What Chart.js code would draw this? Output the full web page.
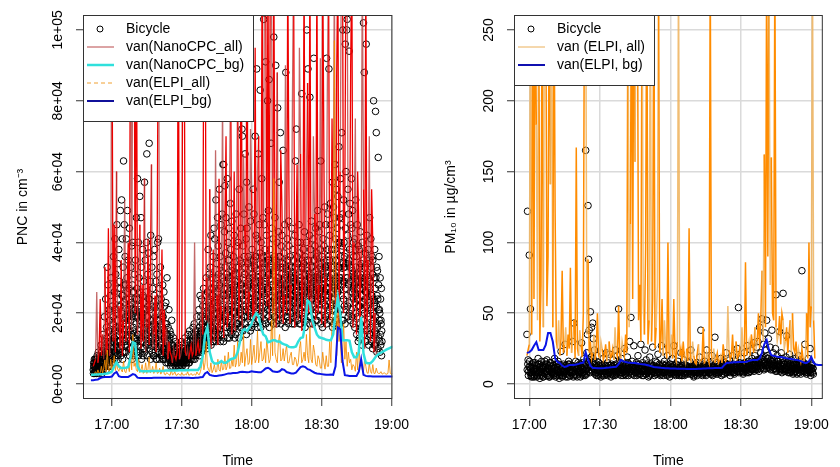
<!DOCTYPE html>
<html>
<head>
<meta charset="utf-8">
<script src="https://cdn.jsdelivr.net/npm/chart.js@4.4.1/dist/chart.umd.min.js"></script>
<style>
  body { margin: 0; background: #fff; }
  .panel { position: absolute; top: 0; width: 420px; height: 467px; }
</style>
</head>
<body>
<div class="panel" style="left:0"><canvas id="pncChart"></canvas></div>
<div class="panel" style="left:420px"><canvas id="pmChart"></canvas></div>
<script>
// x values are minutes after 17:00
const xTickMinutes = [0, 30, 60, 90, 120];
const xTickLabels = ['17:00', '17:30', '18:00', '18:30', '19:00'];
const pncTicks = [0, 20000, 40000, 60000, 80000, 100000];
const pncTickLabels = ['0e+00', '2e+04', '4e+04', '6e+04', '8e+04', '1e+05'];
const pmTicks = [0, 50, 100, 150, 200, 250];
const pmTickLabels = ['0', '50', '100', '150', '200', '250'];

// ---- left panel: PNC (values in 1000 / cm3) ----
// bicycle, readings every 10 s grouped by minute, first row = 16:52
const pncBikeStart = -8;
const pncBikeK = [
  [4,6,5,7,3,5],[5,4,7,6,8,4],[6,9,5,4,7,6],[5,7,11,6,4,8],[8,14,6,10,5,19],[12,7,24,9,16,6],
  [33,10,28,15,7,21],[18,8,25,12,30,9],[11,22,6,17,36,13],[26,9,41,15,31,8],[20,45,12,34,7,27],
  [38,14,29,10,49,22],[16,52,25,41,9,33],[63,28,45,18,36,11],[24,41,13,30,49,19],[35,15,27,44,10,22],
  [18,33,21,39,12,28],[40,16,26,11,31,21],[13,35,19,47,24,9],[58,22,40,14,30,18],[53,26,12,47,33,20],
  [19,38,25,10,29,16],[57,21,35,14,26,40],[65,17,31,22,12,37],[68,24,15,29,42,11],[20,33,13,27,18,36],
  [14,25,38,17,9,29],[22,12,31,16,40,24],[41,18,9,27,14,33],[15,24,11,20,8,28],[19,10,26,13,22,7],
  [12,23,9,17,30,14],[8,16,11,21,7,13],[10,6,14,9,18,7],[7,11,8,13,6,9],[9,6,12,7,10,8],
  [6,10,8,5,11,7],[8,7,10,6,9,12],[7,11,6,9,8,10],[10,8,13,7,9,6],[8,12,7,10,14,9],
  [11,9,15,8,12,10],[9,14,10,13,8,16],[12,10,17,9,14,11],[10,15,11,19,9,13],[14,12,21,10,16,25],
  [12,19,15,24,11,17],[22,14,27,12,18,15],[16,25,11,30,20,13],[26,14,38,19,23,31],[18,33,21,42,15,27],
  [30,16,25,36,12,44],[20,41,28,15,52,24],[34,18,47,23,39,14],[27,55,19,36,22,45],[17,32,48,21,62,29],
  [62,25,43,56,18,37],[47,31,20,58,27,40],[22,44,35,16,30,51],[38,19,28,46,24,33],[15,36,26,42,20,29],
  [31,22,48,17,39,26],[24,40,18,33,55,21],[35,20,44,28,16,72],[70,27,39,22,48,31],[19,65,33,25,41,57],
  [44,28,80,36,21,50],[30,86,24,46,35,19],[26,38,89,30,55,22],[48,33,24,70,29,42],[36,89,27,41,23,65],
  [31,45,20,37,83,28],[40,26,58,33,22,47],[34,103,29,45,25,38],[91,30,42,24,36,80],[27,49,35,86,31,21],
  [38,23,68,29,44,33],[26,41,32,98,24,36],[47,29,90,35,22,40],[33,78,25,43,30,57],[28,36,71,24,39,31],
  [42,27,34,66,22,37],[30,45,25,33,88,28],[24,35,41,27,32,46],[39,28,22,36,30,25],[27,44,33,20,38,29],
  [35,24,30,42,26,63],[31,72,28,36,23,40],[26,34,45,29,37,21],[40,25,33,82,28,35],[22,38,27,31,43,26],
  [36,29,24,40,100,33],[28,89,35,25,31,42],[81,30,38,24,46,27],[33,26,41,29,92,35],[25,39,30,44,28,36],
  [37,24,49,31,27,43],[30,45,26,38,63,34],[24,36,32,27,41,29],[39,28,50,33,25,45],[27,92,35,30,48,38],
  [33,89,29,42,26,51],[45,31,38,24,57,35],[29,50,33,47,28,62],[41,35,55,30,44,26],[53,28,40,67,33,47],
  [36,58,30,45,71,39],[48,100,34,52,40,29],[33,96,44,60,37,100],[103,42,55,34,48,94],[38,51,29,45,33,58],
  [44,32,49,27,40,36],[30,41,26,38,52,29],[36,27,45,31,24,39],[28,38,33,22,43,30],[34,25,29,40,27,35],
  [102,29,88,33,24,37],[26,96,31,42,28,34],[38,30,23,35,47,27],[29,41,33,25,36,31],[35,24,80,30,22,38],
  [27,77,30,71,33,25],[32,24,64,28,36,21],[20,30,24,18,27,15]
];
// bicycle, the readings 5 s later in each 10 s slot, same minutes
const pncBikeHalfK = [
  [3,5,4,6,3,7],[4,6,3,5,7,4],[5,3,6,4,8,5],[4,6,5,9,3,6],[6,4,8,5,11,7],[5,9,7,4,13,8],
  [7,12,5,9,6,15],[9,5,13,7,10,6],[8,14,6,19,10,12],[13,7,21,9,16,11],[10,18,8,24,12,15],
  [16,9,22,12,27,8],[11,20,14,7,25,17],[14,9,23,12,19,28],[9,17,11,26,14,21],[18,12,24,8,20,15],
  [10,23,14,19,7,26],[15,8,20,13,24,11],[21,12,17,9,27,14],[11,19,8,24,15,21],[17,9,22,13,7,19],
  [12,20,8,15,23,10],[9,17,13,21,11,16],[14,8,19,11,24,13],[10,21,15,7,18,12],[16,9,13,22,8,17],
  [8,15,11,19,13,7],[13,7,18,10,15,20],[9,14,7,17,11,22],[12,8,16,10,19,7],[7,13,10,15,9,17],
  [10,6,14,8,12,9],[6,10,8,12,7,15],[8,5,9,6,11,7],[5,8,6,9,7,10],[7,5,8,6,9,6],
  [6,8,5,7,6,9],[5,7,6,8,5,7],[6,5,8,6,7,9],[7,9,6,8,5,7],[6,8,9,7,10,6],
  [8,6,10,7,9,11],[7,10,8,12,9,7],[9,8,11,7,13,10],[8,12,9,10,15,11],[10,9,13,11,8,14],
  [11,15,9,13,17,10],[13,10,16,12,19,14],[12,18,14,22,10,16],[15,11,20,13,17,24],[13,22,16,11,25,19],
  [18,12,21,15,27,14],[14,23,17,30,12,20],[22,13,26,16,31,19],[15,28,20,12,24,33],[21,14,30,18,25,12],
  [13,27,19,33,16,24],[25,16,30,13,21,35],[18,26,13,29,21,15],[27,14,22,32,17,25],[20,31,16,24,13,28],
  [14,25,19,33,22,17],[29,17,23,13,27,20],[16,28,21,34,18,25],[24,15,30,19,36,21],[17,31,22,27,14,26],
  [25,19,34,16,29,22],[20,28,15,33,23,17],[16,24,31,19,27,35],[28,17,22,36,20,25],[21,32,16,26,30,18],
  [25,18,29,22,34,16],[19,27,23,31,17,36],[26,20,33,18,28,22],[17,29,24,35,21,27],[31,19,26,16,33,23],
  [22,34,18,28,25,20],[28,17,31,23,19,35],[19,26,22,33,17,29],[24,30,18,27,36,21],[20,25,33,17,28,23],
  [33,18,24,29,20,26],[21,28,16,31,24,19],[26,19,30,22,35,17],[18,31,24,20,27,33],[30,22,17,28,25,19],
  [23,17,29,21,33,26],[19,27,22,34,18,25],[28,20,31,17,24,30],[17,29,23,26,20,33],[25,19,34,22,29,16],
  [20,31,18,27,23,35],[32,22,26,19,30,17],[19,27,21,33,24,28],[24,17,30,22,35,20],[29,21,18,32,26,23],
  [18,30,25,21,34,27],[26,19,33,24,17,31],[21,28,16,30,23,35],[30,18,26,22,33,19],[17,27,32,20,25,36],
  [25,21,35,18,30,23],[22,33,19,28,16,26],[31,17,27,24,38,21],[18,29,22,35,20,27],[26,20,33,17,30,40],
  [21,31,25,38,18,28],[29,18,24,33,22,36],[17,27,34,21,30,25],[30,22,19,28,35,20],[23,33,18,26,21,30],
  [19,26,31,17,24,28],[28,16,23,33,20,25],[14,24,19,29,12,22],[22,13,27,17,31,15],[16,25,11,21,28,18],
  [23,14,20,30,12,26],[12,22,17,26,15,20],[19,11,24,14,29,16],[14,21,12,25,17,10],[20,13,18,11,23,15],
  [11,19,14,22,9,17],[16,10,21,13,18,12],[9,14,11,17,8,12]
];

// van NanoCPC all, 2 readings per minute, first row = 16:52 (120 = off scale)
const nanoAllStart = -8;
const nanoAllK = [
  [5,6],[7,26],[6,9],[24,8],[14,7],[33,9],[10,44],[8,26],[120,12],[45,9],
  [60,14],[22,10],[35,8],[18,52],[12,27],[40,9],[120,15],[120,120],[20,120],[14,33],
  [45,10],[28,12],[58,9],[16,41],[11,30],[62,10],[14,25],[9,47],[120,10],[18,38],
  [8,21],[11,16],[7,12],[9,8],[6,10],[8,7],[9,120],[7,8],[10,120],[120,9],
  [8,10],[7,9],[11,8],[9,40],[8,10],[12,9],[10,26],[14,120],[120,18],[30,12],
  [55,10],[20,38],[12,66],[25,11],[58,15],[22,82],[13,45],[70,16],[20,55],[90,14],
  [28,60],[15,48],[85,18],[33,120],[16,65],[45,20],[120,18],[26,72],[55,17],[20,95],
  [18,60],[70,20],[30,120],[18,120],[120,22],[120,18],[120,120],[20,120],[45,16],[88,22],
  [18,66],[50,17],[25,90],[20,120],[55,17],[28,80],[120,16],[38,62],[18,95],[65,15],
  [30,120],[17,58],[85,20],[120,22],[16,70],[48,18],[120,20],[28,92],[17,120],[65,16],
  [30,85],[120,18],[26,75],[40,120],[18,88],[120,16],[60,120],[120,20],[55,120],[120,18],
  [30,90],[120,16],[40,75],[14,60],[45,12],[38,120],[55,10],[120,14],[35,70],[12,55],
  [40,9],[20,8]
];

// van NanoCPC background, one value per minute, first = 16:51
const nanoBgStart = -9;
const nanoBgK = [
  2.6,2.6,2.7,2.7,2.8,2.8,2.9,3.0,3.2,
  3.5,5.0,6.2,5.0,4.5,4.5,4.6,4.8,7.5,11.8,11.5,5.0,3.8,3.6,
  3.6,3.6,3.6,3.7,3.7,3.7,3.7,3.7,3.7,3.8,3.8,3.8,3.8,3.8,3.8,3.9,3.9,3.9,3.9,3.9,4.0,4.0,4.0,4.0,
  5.0,8,14,16,9,6.5,5.8,5.8,6.0,6.5,6.0,6.0,6.5,7.0,7.2,7.5,9.0,12,15,15.5,15,16,
  17,19,20,19,16,14,13.5,11.8,12,12.4,12.4,12,12,11.5,11.2,11,10.5,10.4,10.4,10.6,
  12,13,13.2,17,23.6,23,18,16,14,13.2,13,12.8,12.5,12.4,12.4,14,20,24.5,20,12.4,
  12.4,12.4,12.2,9,7.6,7.6,9,19,8.7,6.0,5.9,5.9,6.5,7.5,8.2,8.7,9.0,9.4,9.8,10.1,10.4,10.6
];

// van ELPI all, 2 readings per minute, first row = 16:52
const elpiAllStart = -8;
const elpiAllK = [
  [2.5,3],[3.5,2.8],[4,3],[3.2,5],[3,4.5],[6.8,3.5],[9.6,4],[3.5,7],[4,5.5],[8,3.8],
  [6,4.2],[3.6,5],[4,3.4],[6.5,3.6],[3.2,4.8],[5,3.5],[9,4],[14,5],[6,4],[3.5,7],
  [3.2,4],[5.5,3],[3.4,6],[3,4.2],[7.6,3.2],[3.5,5],[3,3.8],[6,3],[3.2,4.5],[2.8,3.5],
  [5,2.8],[2.6,3.2],[3,2.6],[2.5,4],[2.6,2.8],[3.5,2.5],[2.5,3],[2.6,2.5],[3.2,2.6],[2.5,2.8],
  [2.6,3.5],[2.5,2.6],[3,2.5],[2.6,2.8],[2.5,3.4],[2.8,2.6],[3.5,5],[8,4],[6,12],[5,4],
  [3.5,6],[3.2,4],[5.5,3.4],[3.5,7],[4,3.6],[6.5,4],[4.2,8],[4,5],[9,4.4],[4.5,7],
  [5,11],[4.8,6],[12,5],[5.5,9],[6,14],[5,8],[10,5.5],[6,12.6],[5.5,8],[11,6],
  [7,15],[6,9],[12,6.5],[7,10],[6,13],[9,6],[7,18],[8,58],[9,7],[6,12],
  [14,6.5],[7,10],[6.5,9],[11,6],[6,8],[9,5.5],[5.5,7.6],[7,5],[6,10],[12,6],
  [7,9],[6.5,14],[8,6],[16,7],[6,11],[9,5.5],[5,8],[7,4.5],[4.5,9],[6,4.2],
  [8,5],[5,12],[6,18],[25,97],[40,8],[20,12],[14,6],[8,17],[7,12],[5,9],
  [6,7],[4,5.5],[5,3.6],[9,4],[13,5],[6,4],[3.5,7],[5,3.2],[3,6],[3.5,3],
  [5.5,3],[3,4.5],[3.2,3],[3,3.5],[2.8,3],[3.2,2.8],[2.8,3],[6.8,3],[2.8,3]
];

// van ELPI background, one value per minute, first = 16:51
const elpiBgStart = -9;
const elpiBgK = [
  1.1,1.1,1.2,1.3,1.7,1.9,2.0,2.0,2.0,
  2.1,3.0,3.4,2.2,2.0,2.0,2.0,2.0,2.4,2.8,2.6,1.8,
  1.7,1.7,1.7,1.7,1.7,1.7,1.8,1.8,1.8,1.8,1.8,1.8,1.8,1.8,1.8,1.8,1.8,1.8,1.8,1.8,1.8,1.8,1.7,1.7,1.8,1.8,1.9,2.0,
  3.0,3.4,2.6,2.4,2.3,2.3,2.4,2.5,2.6,2.8,3.0,3.0,3.1,3.1,3.2,3.4,3.5,3.4,3.3,3.4,
  3.6,3.5,3.4,3.3,3.3,3.8,4.4,4.6,4.2,3.6,3.5,3.4,3.6,4.2,4.0,3.4,3.2,3.0,3.0,3.2,
  4.0,4.8,5.0,4.8,4.2,4.0,3.6,3.2,3.0,2.9,2.8,2.7,2.6,2.6,2.7,2.6,5,16,15.5,6.5,
  2.5,2.4,2.3,2.3,2.3,2.3,3.5,7,2.6,2.3,2.2,2.2,2.1,2.1,2.1,2.1,2.1,2.1,2.1,2.1,2.1,2.1
];

// ---- right panel: PM10 (ug/m3) ----
// bicycle, readings every 15 s grouped by minute, first row = 16:59
const pmBikeStart = -1;
const pmBike = [
  [35,122,17,9],[91,12,53,6],[8,14,5,11],[10,6,15,7],[13,5,9,18],[7,12,4,10],[9,16,6,12],[5,11,8,14],
  [12,7,17,9],[6,10,13,5],[15,8,11,7],[9,13,6,18],[11,5,10,14],[7,16,9,4],[12,8,23,6],[5,11,14,9],
  [10,28,7,13],[8,12,5,16],[14,6,10,8],[9,13,30,5],[43,7,11,16],[6,12,9,15],[11,8,14,5],[13,29,7,10],
  [8,18,12,6],[165,10,22,35],[126,88,38,14],[51,12,40,9],[43,32,16,24],[7,13,10,20],[12,6,15,9],[9,14,5,11],
  [13,8,18,7],[6,11,9,22],[10,15,7,13],[8,21,11,5],[14,7,12,17],[9,13,6,24],[11,8,20,10],[53,12,7,15],
  [6,18,10,13],[12,9,25,7],[8,14,11,19],[15,6,13,30],[10,47,9,16],[7,12,27,11],[13,8,15,6],[9,20,11,14],
  [12,7,28,10],[6,15,9,13],[11,24,7,17],[14,8,12,5],[9,19,10,14],[7,12,26,9],[13,6,11,16],[10,15,8,21],
  [8,11,13,6],[12,27,9,14],[6,10,16,8],[11,14,7,20],[9,13,10,5],[14,7,12,18],[8,12,27,9],[11,6,14,10],
  [7,16,9,13],[12,8,22,6],[10,14,11,17],[6,9,13,8],[13,11,7,15],[9,16,10,24],[11,7,13,8],[5,12,9,14],
  [10,15,6,11],[13,8,19,9],[38,10,12,7],[8,14,11,16],[12,6,24,10],[9,13,8,15],[11,7,14,20],[6,12,10,9],
  [33,9,15,11],[10,14,7,13],[8,11,18,6],[12,9,13,16],[7,15,10,22],[11,8,14,9],[13,17,6,12],[9,11,20,8],
  [14,7,12,16],[10,13,25,9],[54,8,15,11],[12,18,9,14],[7,13,22,10],[15,9,12,27],[11,16,8,13],[9,24,14,18],
  [13,10,29,12],[20,15,11,26],[12,30,17,9],[40,14,22,16],[46,19,11,28],[15,36,24,13],[45,20,14,32],[18,12,26,10],
  [14,38,16,22],[11,17,13,25],[63,9,20,14],[16,12,37,10],[13,22,8,18],[64,14,11,16],[10,19,34,13],[15,8,12,21],
  [9,14,17,11],[13,7,15,10],[11,18,9,14],[8,13,20,12],[14,10,7,16],[80,12,15,9],[11,28,8,14],[7,13,10,18],
  [12,9,25,6],[10,14,8,11]
];
// bicycle, the readings 7.5 s later in each 15 s slot, same minutes
const pmBikeHalf = [
  [10,14,6,12],[16,8,11,5],[12,7,15,9],[5,13,8,11],[10,6,14,8],[14,9,6,12],[7,11,13,5],[12,8,16,9],
  [9,14,6,11],[11,5,9,15],[6,12,10,8],[13,7,11,16],[8,12,6,9],[10,14,8,6],[7,9,13,11],[12,6,10,8],
  [9,13,5,11],[11,7,14,9],[6,10,8,12],[13,8,11,6],[9,12,7,10],[11,5,13,8],[7,10,9,12],[12,8,15,6],
  [10,13,7,9],[14,7,11,16],[9,12,17,8],[13,19,10,15],[18,11,14,9],[8,12,6,10],[10,7,13,8],[12,9,7,11],
  [6,11,9,13],[9,13,11,7],[12,6,10,8],[10,9,13,7],[8,12,6,10],[11,7,9,14],[7,10,12,9],[9,13,8,11],
  [12,8,10,6],[10,11,7,13],[6,9,12,10],[11,14,8,12],[9,7,13,10],[12,10,6,9],[8,12,10,14],[10,7,12,8],
  [7,11,9,13],[12,9,6,10],[9,13,10,7],[11,8,12,9],[6,10,7,12],[10,13,9,11],[8,11,12,7],[12,7,10,9],
  [9,14,7,11],[7,10,12,8],[11,8,9,13],[9,12,6,10],[12,7,11,8],[8,10,9,12],[10,13,7,11],[7,9,12,8],
  [11,8,10,6],[9,12,7,10],[6,10,13,8],[11,7,9,12],[8,12,10,9],[12,9,7,11],[7,11,9,6],[10,8,12,7],
  [8,12,10,9],[11,7,9,12],[9,11,6,10],[12,9,13,8],[7,10,11,9],[10,12,8,11],[8,9,12,7],[11,13,9,10],
  [8,10,7,12],[12,8,11,9],[9,12,10,14],[10,7,13,11],[12,10,8,14],[9,13,11,10],[11,8,14,10],[13,10,9,12],
  [8,12,11,10],[12,9,14,11],[10,13,9,12],[14,11,10,8],[9,12,15,11],[12,10,8,14],[10,14,12,9],[13,11,16,10],
  [11,15,9,13],[14,10,12,17],[10,13,16,12],[15,11,18,13],[12,17,14,10],[16,13,19,11],[13,18,12,15],[11,14,17,13],
  [16,12,10,14],[13,15,11,9],[10,13,16,12],[14,11,9,13],[11,15,12,10],[13,9,14,11],[9,12,10,15],[12,10,14,8],
  [10,13,9,11],[12,8,11,14],[9,11,13,7],[11,14,10,12],[8,12,9,13],[12,10,14,9],[9,13,11,10],[11,8,12,9],
  [10,12,8,11],[13,9,11,7]
];

// van ELPI all, 2 readings per minute, first row = 16:59 (300 = off scale)
const pmAllStart = -1;
const pmAll = [
  [20,24],[28,300],[35,300],[60,300],[183,45],[300,30],[70,300],[40,300],[300,55],[90,300],
  [141,300],[40,300],[121,30],[25,45],[20,32],[80,22],[28,40],[20,35],[25,82],[22,30],
  [45,18],[167,25],[20,38],[28,19],[50,300],[300,35],[88,22],[30,18],[22,35],[17,26],
  [50,20],[18,30],[25,17],[20,28],[16,22],[30,18],[20,25],[17,40],[22,19],[55,20],
  [18,30],[25,20],[35,22],[300,40],[113,300],[60,300],[157,300],[300,45],[70,30],[300,55],
  [35,95],[300,28],[45,300],[30,60],[300,25],[40,70],[300,22],[30,60],[20,45],[28,18],
  [100,22],[20,35],[18,60],[22,17],[30,300],[20,25],[16,30],[18,15],[25,16],[110,18],
  [15,30],[20,15],[14,22],[28,15],[16,18],[40,15],[16,22],[18,15],[300,20],[16,25],
  [15,18],[22,15],[17,20],[15,28],[20,16],[18,55],[24,17],[20,35],[17,22],[30,18],
  [20,25],[18,40],[22,18],[86,20],[25,30],[20,35],[28,22],[40,25],[30,50],[25,45],
  [80,30],[162,40],[300,90],[300,70],[160,50],[45,300],[40,30],[35,48],[28,50],[45,25],
  [30,40],[22,35],[45,20],[50,25],[22,30],[18,25],[20,16],[25,18],[16,20],[50,18],
  [100,40],[55,300],[45,18]
];

// van ELPI background, one value per minute, first = 16:59
const pmBgStart = -1;
const pmBg = [
  22,22.5,24,27,29.6,24,24,24,27.5,36,36,30,
  18,15.5,14.8,13,12,12.5,13.4,13.4,13.4,13.8,14.2,14.8,15,22.5,17,13,11.3,
  11.3,11.2,11.2,11.2,11.3,11.5,11.6,11.8,12,12.2,
  14,17,16,15.5,15.2,15,14.9,14.8,14.5,14.2,14,13.8,13.4,13,12.5,12,
  11.8,11.6,11.4,11.3,11.2,11.1,11,11,10.9,10.8,10.8,10.7,10.7,10.6,10.6,10.6,10.6,
  10.6,10.7,10.8,10.9,11,11.1,11.2,11.2,11.3,11.3,11.3,11.5,
  13.5,14.8,15,15.2,15.3,15.4,15.5,15.5,15.5,15.5,16,16.5,17,17,17,18,
  22,28,31,24,20.4,20,19.5,19,19,18.7,18.3,18,17.8,17.5,17.2,17,16.5,15.8,15,14.8,16,19,15,13.8,13.4,13.4,13.4
];

Chart.defaults.font.family = 'Arial, "Liberation Sans", sans-serif';
Chart.defaults.font.size = 14;
Chart.defaults.color = '#000';

// rows of readings per minute -> {x: minutes, y}; shift = fraction of a slot
function minuteRows(rows, start, unit, shift = 0) {
  const pts = [];
  rows.forEach((row, i) => {
    row.forEach((v, j) => pts.push({x: start + i + (j + shift) / row.length, y: v * unit}));
  });
  return pts;
}

function perMinute(values, start, unit) {
  return values.map((v, i) => ({x: start + i, y: v * unit}));
}

// every third minute of the raw van trace is drawn in the paler tone, like the overplotted original
function twoTone(strong, pale) {
  return {borderColor: c => (Math.floor(c.p0DataIndex / 2) % 3 === 1 ? pale : strong)};
}

// R style frame: box, rotated y labels and a boxed legend in the top left corner
function rFrame(yTicks, yLabels) {
  return {
    id: 'rFrame',
    afterDatasetsDraw(chart) {
      const {ctx, chartArea: a} = chart;
      ctx.save();
      ctx.strokeStyle = '#333';
      ctx.lineWidth = 1;
      ctx.strokeRect(a.left + 0.5, a.top + 0.5, a.right - a.left - 1, a.bottom - a.top - 1);
      ctx.restore();
    },
    afterDraw(chart) {
      const {ctx, chartArea: a} = chart;
      const ys = chart.scales.y;
      ctx.save();
      ctx.font = '14px Arial, "Liberation Sans", sans-serif';
      ctx.fillStyle = '#000';
      ctx.textAlign = 'center';
      ctx.textBaseline = 'middle';
      yTicks.forEach((v, i) => {
        ctx.save();
        ctx.translate(a.left - 25, ys.getPixelForValue(v));
        ctx.rotate(-Math.PI / 2);
        ctx.fillText(yLabels[i], 0, 0);
        ctx.restore();
      });

      // legend
      const items = chart.data.datasets;
      const textX = 43, rowH = 18;
      const maxW = Math.max(...items.map(d => ctx.measureText(d.label).width));
      const w = Math.round(textX + maxW + 9);
      const h = items.length * rowH + 16;
      const x0 = a.left, y0 = a.top;
      ctx.fillStyle = '#fff';
      ctx.fillRect(x0, y0, w, h);
      ctx.strokeStyle = '#333';
      ctx.lineWidth = 1;
      ctx.strokeRect(x0 + 0.5, y0 + 0.5, w, h);
      items.forEach((d, i) => {
        const cy = y0 + 14 + i * rowH;
        if (d.showLine) {
          ctx.beginPath();
          ctx.setLineDash(d.legendDash || []);
          ctx.strokeStyle = d.legendColor || d.borderColor;
          ctx.lineWidth = d.legendWidth || d.borderWidth;
          ctx.moveTo(x0 + 4, cy);
          ctx.lineTo(x0 + 31, cy);
          ctx.stroke();
          ctx.setLineDash([]);
        } else {
          ctx.beginPath();
          ctx.strokeStyle = '#000';
          ctx.lineWidth = 1;
          ctx.arc(x0 + 17, cy, 3, 0, Math.PI * 2);
          ctx.stroke();
        }
        ctx.fillStyle = '#000';
        ctx.textAlign = 'left';
        ctx.fillText(d.label, x0 + textX, cy);
      });
      ctx.restore();
    }
  };
}

function makeScales(xMin, xMax, yMin, yMax, yTicks, yTitle, yWidth, yTitlePad) {
  const grid = {color: '#dadada', lineWidth: 1.5, tickColor: '#333', tickLength: 7, tickWidth: 1};
  return {
    x: {
      type: 'linear', min: xMin, max: xMax,
      afterBuildTicks: s => { s.ticks = xTickMinutes.map(v => ({value: v})); },
      afterFit: s => { s.height = 68; },
      grid: grid,
      border: {display: false},
      ticks: {callback: (v, i) => xTickLabels[i], autoSkip: false, maxRotation: 0, padding: 11},
      title: {display: true, text: 'Time', font: {size: 14, lineHeight: 1}, padding: {top: 0, bottom: -1}}
    },
    y: {
      min: yMin, max: yMax,
      afterBuildTicks: s => { s.ticks = yTicks.map(v => ({value: v})); },
      afterFit: s => { s.width = yWidth; },
      grid: grid,
      border: {display: false},
      ticks: {display: false},
      title: {display: true, text: yTitle, font: {size: 14, lineHeight: 1}, padding: {top: yTitlePad}}
    }
  };
}

const bikeStyle = {
  showLine: false, pointRadius: 3.3, pointBorderWidth: 1, borderColor: '#000',
  pointBorderColor: '#000', pointBackgroundColor: 'rgba(0,0,0,0)', clip: 0
};

new Chart(document.getElementById('pncChart'), {
  type: 'scatter',
  data: {
    datasets: [
      {label: 'Bicycle', ...bikeStyle, order: 5,
        data: minuteRows(pncBikeK, pncBikeStart, 1000).concat(minuteRows(pncBikeHalfK, pncBikeStart, 1000, 0.5))},
      {label: 'van(NanoCPC_all)', data: minuteRows(nanoAllK, nanoAllStart, 1000), showLine: true,
        borderColor: '#e80000', segment: twoTone('#ee0000', 'rgba(175,55,55,0.75)'),
        legendColor: '#b9484b', legendWidth: 1, borderWidth: 1.3, pointRadius: 0, clip: 0, order: 4},
      {label: 'van(NanoCPC_bg)', data: perMinute(nanoBgK, nanoBgStart, 1000), showLine: true,
        borderColor: '#30e0dc', borderWidth: 2.5, pointRadius: 0, clip: 0, order: 2},
      {label: 'van(ELPI_all)', data: minuteRows(elpiAllK, elpiAllStart, 1000), showLine: true,
        borderColor: 'rgba(245,140,0,0.85)', legendColor: '#f0a030', legendDash: [4, 3], borderWidth: 1,
        pointRadius: 0, clip: 0, order: 3},
      {label: 'van(ELPI_bg)', data: perMinute(elpiBgK, elpiBgStart, 1000), showLine: true,
        borderColor: '#0a14e6', legendColor: '#10109a', borderWidth: 2, pointRadius: 0, clip: 0, order: 1}
    ]
  },
  options: {
    responsive: true, maintainAspectRatio: false, animation: false, events: [],
    layout: {padding: {left: 0, right: 15, top: 15, bottom: 0}},
    plugins: {legend: {display: false}, tooltip: {enabled: false}},
    scales: makeScales(-12.4, 120.4, -4225, 104225, pncTicks, 'PNC in cm⁻³', 83, 16)
  },
  plugins: [rFrame(pncTicks, pncTickLabels)]
});

new Chart(document.getElementById('pmChart'), {
  type: 'scatter',
  data: {
    datasets: [
      {label: 'Bicycle', ...bikeStyle, order: 3,
        data: minuteRows(pmBike, pmBikeStart, 1).concat(minuteRows(pmBikeHalf, pmBikeStart, 1, 0.5))},
      {label: 'van (ELPI, all)', data: minuteRows(pmAll, pmAllStart, 1), showLine: true,
        borderColor: '#ff8c00', segment: twoTone('#ff8c00', 'rgba(238,178,90,0.85)'),
        legendColor: '#ebb05a', legendWidth: 1, borderWidth: 1.5, pointRadius: 0, clip: 0, order: 2},
      {label: 'van(ELPI, bg)', data: perMinute(pmBg, pmBgStart, 1), showLine: true,
        borderColor: '#0a14e6', legendColor: '#1010b0', borderWidth: 2, pointRadius: 0, clip: 0, order: 1}
    ]
  },
  options: {
    responsive: true, maintainAspectRatio: false, animation: false, events: [],
    layout: {padding: {left: 0, right: 4, top: 15, bottom: 0}},
    plugins: {legend: {display: false}, tooltip: {enabled: false}},
    scales: makeScales(-6.5, 124.9, -10.6, 260.6, pmTicks, 'PM₁₀ in µg/cm³', 94, 24)
  },
  plugins: [rFrame(pmTicks, pmTickLabels)]
});
</script>
</body>
</html>
